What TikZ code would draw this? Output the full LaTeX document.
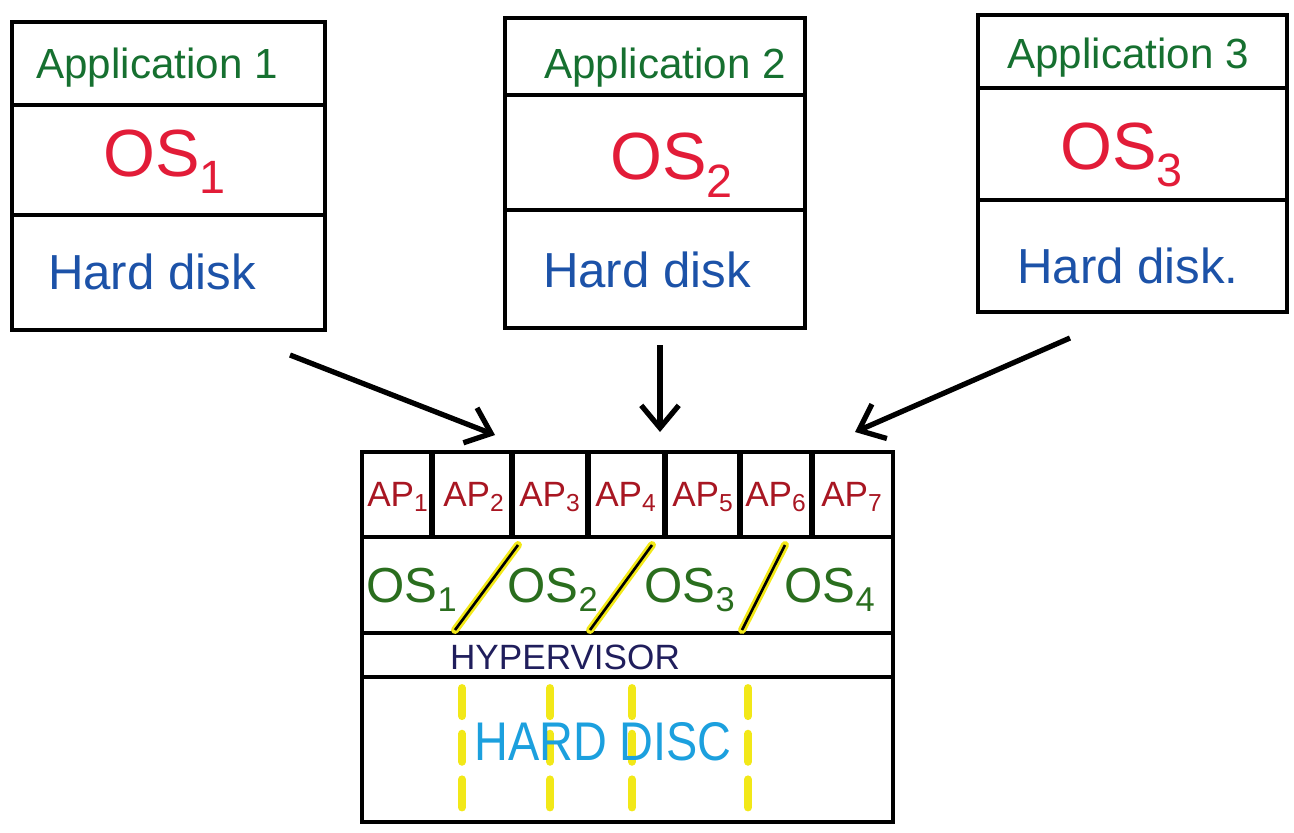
\documentclass[tikz,border=0pt]{standalone}
\usepackage{fontspec}
\setmainfont{Liberation Sans}
\usepackage{xcolor}
\usetikzlibrary{arrows.meta,calc,positioning}

\definecolor{appgreen}{RGB}{22,112,48}
\definecolor{osred}{RGB}{226,28,56}
\definecolor{diskblue}{RGB}{28,82,168}
\definecolor{apred}{RGB}{168,22,34}
\definecolor{vmgreen}{RGB}{42,110,30}
\definecolor{hvnavy}{RGB}{32,30,92}
\definecolor{hdcyan}{RGB}{28,160,222}
\definecolor{marker}{RGB}{242,232,24}

\begin{document}
\begin{tikzpicture}[x=0.02cm, y=-0.02cm, semithick]
  \tikzstyle{frame}=[draw=black, line width=2pt, inner sep=0pt]
  \tikzstyle{rule}=[draw=black, line width=1.8pt]
  \tikzstyle{link}=[draw=black, line width=3pt, -{Straight Barb[length=4.5mm,width=7.5mm,line width=3pt]}]
  \tikzstyle{hl}=[draw=marker, line width=4.5pt, line cap=round]
  \tikzstyle{title}=[text=appgreen, font=\fontsize{24}{26}\selectfont]
  \tikzstyle{guest}=[text=osred, font=\fontsize{38}{40}\selectfont]
  \tikzstyle{disk}=[text=diskblue, font=\fontsize{28}{30}\selectfont]
  \tikzstyle{aplabel}=[text=apred, inner sep=0pt, font=\fontsize{20}{22}\selectfont]
  \tikzstyle{oslabel}=[text=vmgreen, inner sep=0pt, font=\fontsize{28}{30}\selectfont]

  \useasboundingbox (0,0) rectangle (1294,832);

  % three separate machines
  \node[frame, minimum width=6.26cm, minimum height=6.16cm] (app1) at (168.5,176) {};
  \node[frame, minimum width=6cm, minimum height=6.2cm] (app2) at (655,173) {};
  \node[frame, minimum width=6.18cm, minimum height=5.94cm] (app3) at (1132.5,163.5) {};

  \draw[rule] (app1.west |- 0,105) -- (app1.east |- 0,105);
  \draw[rule] (app1.west |- 0,215) -- (app1.east |- 0,215);
  \draw[rule] (app2.west |- 0,95) -- (app2.east |- 0,95);
  \draw[rule] (app2.west |- 0,210) -- (app2.east |- 0,210);
  \draw[rule] (app3.west |- 0,88) -- (app3.east |- 0,88);
  \draw[rule] (app3.west |- 0,200) -- (app3.east |- 0,200);

  \node[title] (title1) at (157,68) {Application 1};
  \node[title] (title2) at (665,68) {Application 2};
  \node[title] (title3) at (1128,58) {Application 3};

  \node[guest] (os1) at (165,162) {OS\textsubscript{1}};
  \node[guest] (os2) at (672,165) {OS\textsubscript{2}};
  \node[guest] (os3) at (1122,155) {OS\textsubscript{3}};

  \node[disk] (disk1) at (152,272) {Hard disk};
  \node[disk] (disk2) at (647,270) {Hard disk};
  \node[disk] (disk3) at (1128,266) {Hard disk.};

  % virtualised host
  \node[frame, minimum width=10.62cm, minimum height=7.4cm] (host) at (627.5,637) {};

  \coordinate (from1) at (290,355);
  \coordinate (to1) at (495,435);
  \coordinate (from2) at (660,345);
  \coordinate (to2) at (660,432);
  \coordinate (from3) at (1070,338);
  \coordinate (to3) at (855,432);
  \draw[link] (from1) -- (to1);
  \draw[link] (from2) -- (to2);
  \draw[link] (from3) -- (to3);

  \draw[rule] (host.west |- 0,537) -- (host.east |- 0,537);
  \draw[rule] (host.west |- 0,633) -- (host.east |- 0,633);
  \draw[rule] (host.west |- 0,677) -- (host.east |- 0,677);

  \foreach \x in {432,512,588,665,740,812}
    \draw[line width=3pt] (\x,452) -- (\x,537);

  \foreach \i/\x in {1/398,2/474,3/550,4/626,5/703,6/776,7/852}
    \node[aplabel] (ap\i) at (\x,497) {AP\textsubscript{\i}};

  % slashes between the guest systems
  \foreach \xa/\xb in {455/518,590/652,742/785}{
    \draw[hl] (\xa,630) -- (\xb,545);
    \draw[line width=1.5pt] (\xa,630) -- (\xb,545);
  }

  \foreach \i/\x in {1/412,2/553,3/690,4/830}
    \node[oslabel] (vos\i) at (\x,590) {OS\textsubscript{\i}};

  \node[text=hvnavy, font=\fontsize{20}{22}\selectfont] (hyper) at (565,657) {HYPERVISOR};

  \foreach \x in {462,550,632,748}
    \draw[hl, dash pattern=on 16pt off 10pt] (\x,688) -- (\x,812);

  \node[text=hdcyan, font=\fontsize{31}{33}\selectfont] (hdd) at (603,742) {\scalebox{0.86}[1]{HARD DISC}};
\end{tikzpicture}
\end{document}
